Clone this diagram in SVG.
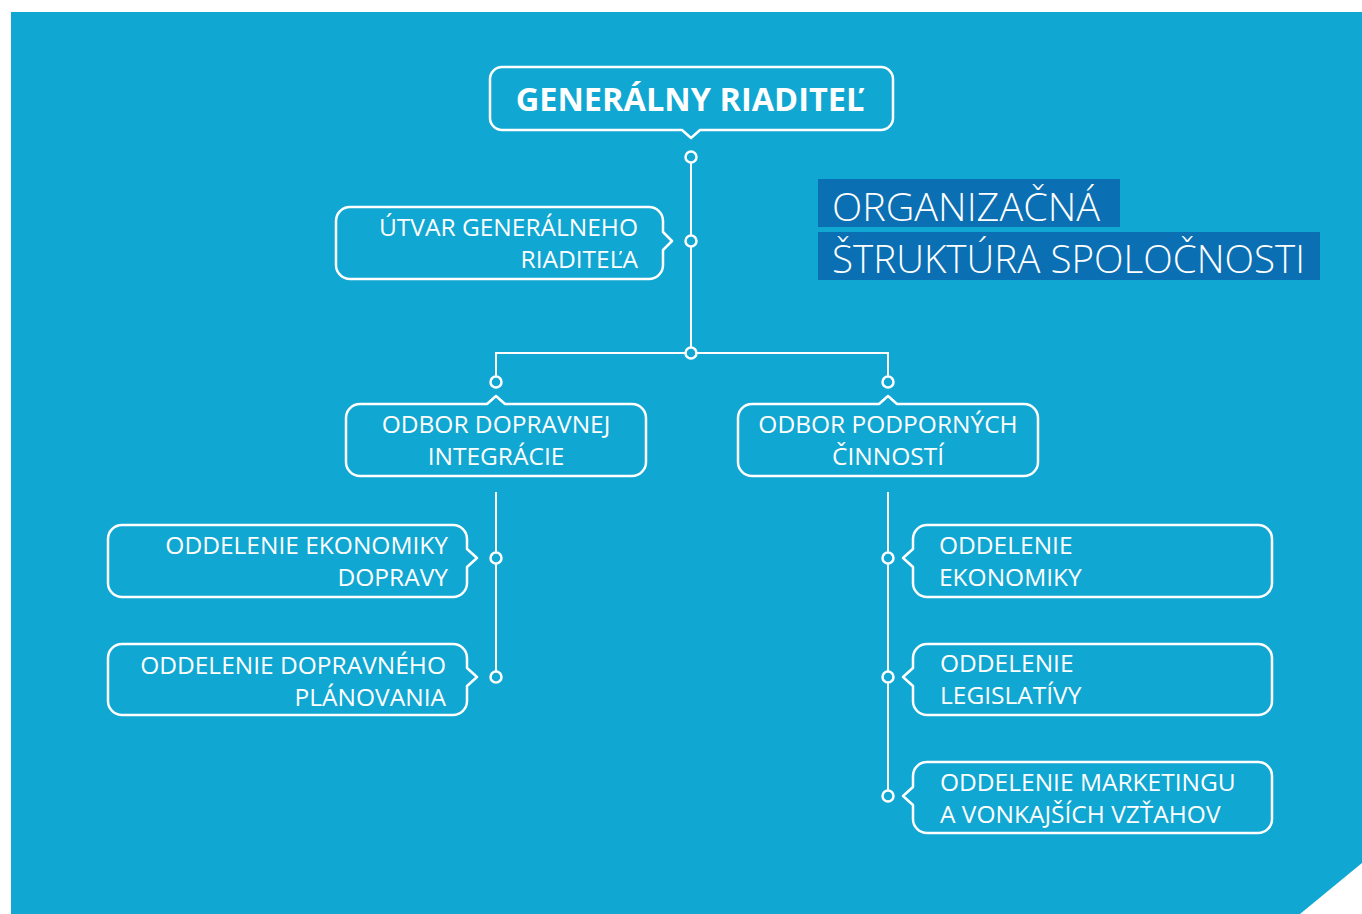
<svg xmlns="http://www.w3.org/2000/svg" width="1362" height="914" viewBox="0 0 1362 914">
<style>
.bx{fill:none;stroke:#fff;stroke-width:2.5;stroke-linejoin:round}
.ln{fill:none;stroke:#fff;stroke-width:2}
.dot{fill:#10a7d2;stroke:#fff;stroke-width:2.5}
.t{font-family:"Open Sans","Noto Sans",sans-serif;font-size:24.5px;fill:#fff}
.tb{font-family:"Open Sans","Noto Sans",sans-serif;font-size:32.5px;font-weight:700;fill:#fff}
.tt{font-family:"Open Sans","Noto Sans",sans-serif;font-size:39.3px;font-weight:300;fill:#fff}
</style>
<rect width="1362" height="914" fill="#fff"/>
<path d="M11,12 H1362 V863 L1300,914 H11 Z" fill="#10a7d2"/>
<g id="title">
<rect x="818" y="179" width="302" height="48" fill="#0a6fb3"/>
<rect x="818" y="232" width="502" height="48" fill="#0a6fb3"/>
<text class="tt" x="832" y="221" textLength="268" lengthAdjust="spacingAndGlyphs">ORGANIZAČNÁ</text>
<text class="tt" x="832" y="273" textLength="473" lengthAdjust="spacingAndGlyphs">ŠTRUKTÚRA SPOLOČNOSTI</text>
</g>
<g id="connectors">
<path class="ln" d="M691,162 V353"/>
<path class="ln" d="M496,377 V353 H888 V377"/>
<path class="ln" d="M496,492 V672"/>
<path class="ln" d="M888,492 V791"/>
<circle class="dot" cx="691" cy="157" r="5.5"/>
<circle class="dot" cx="691" cy="241" r="5.5"/>
<circle class="dot" cx="691" cy="353" r="5.5"/>
<circle class="dot" cx="496" cy="382" r="5.5"/>
<circle class="dot" cx="888" cy="382" r="5.5"/>
<circle class="dot" cx="496" cy="558" r="5.5"/>
<circle class="dot" cx="496" cy="677" r="5.5"/>
<circle class="dot" cx="888" cy="558" r="5.5"/>
<circle class="dot" cx="888" cy="677" r="5.5"/>
<circle class="dot" cx="888" cy="796" r="5.5"/>
</g>
<g id="n-gr">
<path class="bx" d="M502,67 H881 A12,12 0 0 1 893,79 V118 A12,12 0 0 1 881,130 H700 L691,138 L682,130 H502 A12,12 0 0 1 490,118 V79 A12,12 0 0 1 502,67 Z"/>
<text class="tb" x="690" y="111" text-anchor="middle">GENERÁLNY RIADITEĽ</text>
</g>
<g id="n-ugr">
<path class="bx" d="M350,207 H649 A14,14 0 0 1 663,221 V232 L672,241 L663,250 V265 A14,14 0 0 1 649,279 H350 A14,14 0 0 1 336,265 V221 A14,14 0 0 1 350,207 Z"/>
<text class="t" x="638" y="236" text-anchor="end">ÚTVAR GENERÁLNEHO</text>
<text class="t" x="638" y="268" text-anchor="end">RIADITEĽA</text>
</g>
<g id="n-odi">
<path class="bx" d="M360,404 H487 L496,396 L505,404 H632 A14,14 0 0 1 646,418 V462 A14,14 0 0 1 632,476 H360 A14,14 0 0 1 346,462 V418 A14,14 0 0 1 360,404 Z"/>
<text class="t" x="496" y="433" text-anchor="middle">ODBOR DOPRAVNEJ</text>
<text class="t" x="496" y="465" text-anchor="middle">INTEGRÁCIE</text>
</g>
<g id="n-opc">
<path class="bx" d="M752,404 H879 L888,396 L897,404 H1024 A14,14 0 0 1 1038,418 V462 A14,14 0 0 1 1024,476 H752 A14,14 0 0 1 738,462 V418 A14,14 0 0 1 752,404 Z"/>
<text class="t" x="888" y="433" text-anchor="middle">ODBOR PODPORNÝCH</text>
<text class="t" x="888" y="465" text-anchor="middle">ČINNOSTÍ</text>
</g>
<g id="n-oed">
<path class="bx" d="M122,525 H453 A14,14 0 0 1 467,539 V549 L477,558 L467,567 V583 A14,14 0 0 1 453,597 H122 A14,14 0 0 1 108,583 V539 A14,14 0 0 1 122,525 Z"/>
<text class="t" x="448" y="554" text-anchor="end">ODDELENIE EKONOMIKY</text>
<text class="t" x="448" y="586" text-anchor="end">DOPRAVY</text>
</g>
<g id="n-odp">
<path class="bx" d="M122,644 H453 A14,14 0 0 1 467,658 V668 L477,677 L467,686 V701 A14,14 0 0 1 453,715 H122 A14,14 0 0 1 108,701 V658 A14,14 0 0 1 122,644 Z"/>
<text class="t" x="446" y="674" text-anchor="end">ODDELENIE DOPRAVNÉHO</text>
<text class="t" x="446" y="706" text-anchor="end">PLÁNOVANIA</text>
</g>
<g id="n-oe">
<path class="bx" d="M927,525 H1258 A14,14 0 0 1 1272,539 V583 A14,14 0 0 1 1258,597 H927 A14,14 0 0 1 913,583 V567 L903,558 L913,549 V539 A14,14 0 0 1 927,525 Z"/>
<text class="t" x="939" y="554">ODDELENIE</text>
<text class="t" x="939" y="586">EKONOMIKY</text>
</g>
<g id="n-ol">
<path class="bx" d="M927,644 H1258 A14,14 0 0 1 1272,658 V701 A14,14 0 0 1 1258,715 H927 A14,14 0 0 1 913,701 V686 L903,677 L913,668 V658 A14,14 0 0 1 927,644 Z"/>
<text class="t" x="940" y="672">ODDELENIE</text>
<text class="t" x="940" y="704">LEGISLATÍVY</text>
</g>
<g id="n-om">
<path class="bx" d="M927,762 H1258 A14,14 0 0 1 1272,776 V819 A14,14 0 0 1 1258,833 H927 A14,14 0 0 1 913,819 V805 L903,796 L913,787 V776 A14,14 0 0 1 927,762 Z"/>
<text class="t" x="940" y="791">ODDELENIE MARKETINGU</text>
<text class="t" x="940" y="823">A VONKAJŠÍCH VZŤAHOV</text>
</g>
</svg>
